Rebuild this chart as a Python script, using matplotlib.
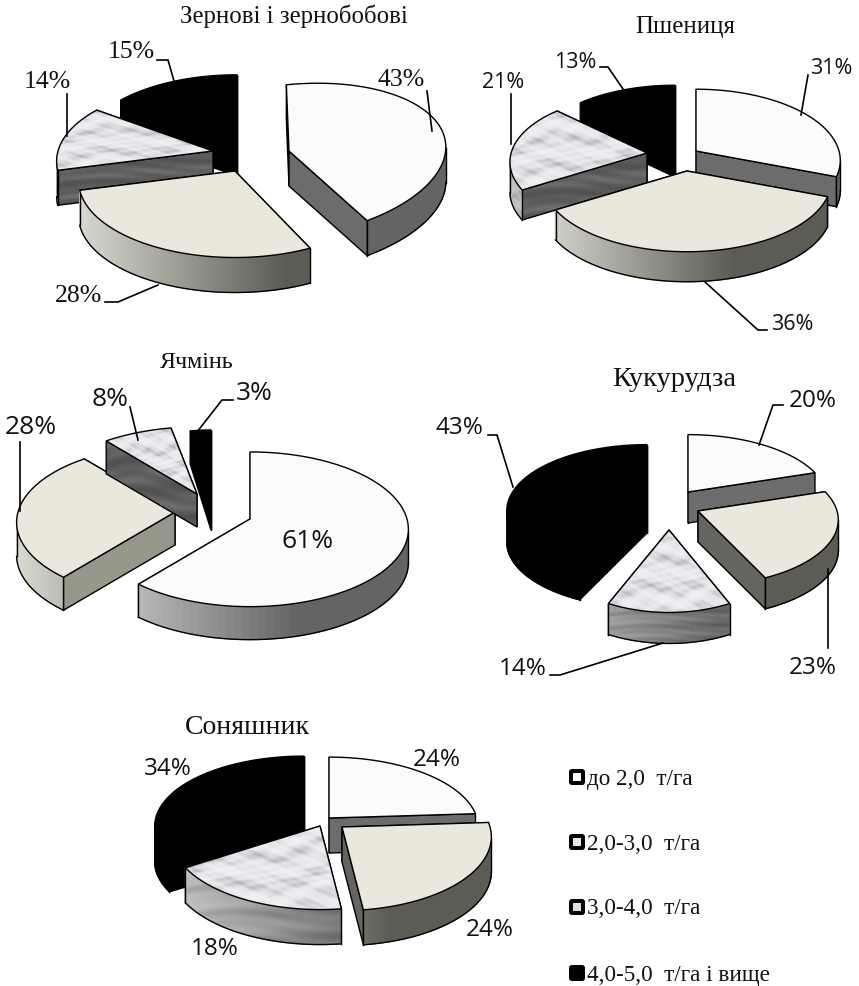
import numpy as np
import matplotlib
matplotlib.use("Agg")
import matplotlib.pyplot as plt
from matplotlib.colors import LinearSegmentedColormap, to_rgb
from matplotlib.patches import FancyBboxPatch, Polygon

# values, % per class
zernovi = [43, 28, 14, 15]
pshenytsia = [31, 36, 21, 13]
yachmin = [61, 28, 8, 3]
kukurudza = [20, 23, 14, 43]
sonyashnyk = [24, 24, 18, 34]

classes = ["до 2,0  т/га", "2,0-3,0  т/га", "3,0-4,0  т/га", "4,0-5,0  т/га і вище"]

top_colors = ["#fbfbfb", "#eae8dc", "#dcdce2", "#000000"]
side_colors = ["#6c6c6c", "#646460", "#5c5c5c", "#000000"]
wall_light = ["#d0d0d0", "#d8d8ce", "#c4c4c4", "#000000"]
wall_dark = ["#646464", "#5c5c55", "#686868", "#000000"]

SERIF = "Liberation Serif"
SANS = "Open Sans"

# layout of each pie: wedge tips, radii, depth, draw order
pies = [
    dict(values=zernovi, tips=[(289, 152), (235, 172), (213, 152), (237, 142)],
         rx=155, ry=75, depth=35, order=[0, 3, 2, 1], font=SERIF, fs=18.5,
         skews={0: (0.04, -0.1)},
         title="Зернові і зернобобові", title_xy=(294, 16), title_fs=17.8,
         labels=[(401, 80), (79, 296), (47, 82), (131, 52)],
         leaders=[[(427, 92), (432, 132)], [(105, 303), (118, 303), (158, 286)],
                  [(67, 95), (67, 137)], [(157, 61), (168, 61), (174, 82)]]),
    dict(values=pshenytsia, tips=[(696, 152), (687, 172), (647, 154), (675, 148)],
         rx=143, ry=70, depth=30, order=[0, 3, 2, 1], font=SANS, fs=15.5,
         scales={2: (0.95, 0.95)},
         title="Пшениця", title_xy=(685, 27), title_fs=17.9,
         labels=[(831, 68), (792, 325), (503, 82), (575, 63)],
         leaders=[[(808, 76), (801, 116)], [(767, 331), (758, 331), (705, 283)],
                  [(511, 95), (511, 145)], [(600, 68), (608, 68), (623, 90)]]),
    dict(values=yachmin, tips=[(250, 520), (175, 513), (197, 495), (211, 498)],
         rx=157, ry=76, depth=33, order=[3, 1, 2, 0], font=SANS, fs=19,
         side_beige="#96968a", scales={3: (0.8, 1)},
         title="Ячмінь", title_xy=(197, 363), title_fs=17.3,
         labels=[(308, 542), (31, 427), (110, 400), (254, 393)],
         leaders=[[(20, 443), (20, 512)], [(130, 408), (138, 441)],
                  [(233, 401), (222, 401), (197, 433)]]),
    dict(values=kukurudza, tips=[(688, 493), (698, 512), (669, 531), (647, 503)],
         rx=139, ry=65, depth=31, order=[0, 3, 1, 2], font=SANS, fs=17.5,
         scales={2: (0.9, 1.1)},
         title="Кукурудза", title_xy=(674, 380), title_fs=20.5,
         labels=[(813, 401), (813, 668), (523, 669), (459, 428)],
         leaders=[[(783, 406), (773, 406), (759, 446)], [(488, 436), (497, 436), (513, 488)],
                  [(550, 676), (560, 676), (663, 644)], [(828, 649), (828, 570)]]),
    dict(values=sonyashnyk, tips=[(329, 819), (342, 828), (320, 827), (304, 818)],
         rx=148, ry=69, depth=35, order=[3, 0, 2, 1], font=SANS, fs=17.5,
         scales={1: (1, 1.05), 2: (1, 1.05)},
         title="Соняшник", title_xy=(247, 727), title_fs=20,
         labels=[(437, 760), (490, 930), (215, 949), (168, 769)],
         leaders=[]),
]

K = 0.133  # perspective of the tilted disc


def project(t, tip, rx, ry, skew):
    d = 1 + K * np.cos(t)
    px = rx * np.sin(t) / d
    py = -ry * np.cos(t) / d
    return tip[0] + px + skew[0] * py, tip[1] + py + skew[1] * px


def mix(a, b, f):
    a, b = np.array(to_rgb(a)), np.array(to_rgb(b))
    return tuple(a + (b - a) * f)


def marble(ax, patch, xs, ys, zorder):
    # soft smudges, stretched sideways
    xx, yy = np.meshgrid(np.linspace(0, 1, 300), np.linspace(0, 1, 300))
    tex = (np.sin(9 * xx + 19 * yy + 2 * np.sin(7 * xx)) + 0.8 * np.sin(17 * xx - 31 * yy + 1)
           + 0.6 * np.sin(29 * xx + 53 * yy + 3 * np.sin(11 * yy)) + 0.4 * np.sin(61 * xx - 71 * yy))
    cmap = LinearSegmentedColormap.from_list(
        "marble", ["#b0b0b8", "#cfcfd6", "#e6e6ea", "#eeeef1", "#f1f1f4"])
    im = ax.imshow(tex, cmap=cmap, extent=(min(xs), max(xs), max(ys), min(ys)),
                   aspect="auto", zorder=zorder, interpolation="bilinear")
    im.set_clip_path(patch)


def streaks(ax, patch, xs, ys, zorder):
    # horizontal streaks of the marble walls
    xx, yy = np.meshgrid(np.linspace(0, 1, 120), np.linspace(0, 1, 80))
    wave = np.sin(17 * yy + 2 * xx) + 0.7 * np.sin(37 * yy + 3 * np.sin(5 * xx))
    rgba = np.zeros(xx.shape + (4,))
    rgba[..., :3] = (wave > 0)[..., None] * 1.0
    rgba[..., 3] = 0.07 * np.abs(wave)
    im = ax.imshow(rgba, extent=(min(xs), max(xs), max(ys), min(ys)),
                   aspect="auto", zorder=zorder, interpolation="bilinear")
    im.set_clip_path(patch)


def draw_wedge(ax, pie, i, t0, t1, z):
    tip = pie["tips"][i]
    rx, ry, dep = pie["rx"], pie["ry"], pie["depth"]
    skew = pie.get("skews", {}).get(i, (0, 0))
    sc = pie.get("scales", {}).get(i, (1, 1))
    ts = np.linspace(t0, t1, 90)
    x, y = project(ts, tip, rx * sc[0], ry * sc[1], skew)

    # flat sides, the far one first
    side = side_colors[i]
    if i == 1 and "side_beige" in pie:
        side = pie["side_beige"]
    ends = sorted([(x[0], y[0]), (x[-1], y[-1])], key=lambda p: p[1])
    for e in ends:
        quad = np.array([tip, e, (e[0], e[1] + dep), (tip[0], tip[1] + dep)])
        p = Polygon(quad, closed=True, fc=side, ec="none", zorder=z)
        ax.add_patch(p)
        if i == 2:
            streaks(ax, p, quad[:, 0], quad[:, 1], z + 0.5)
        ax.add_patch(Polygon(quad, closed=True, fc="none", ec="black", lw=1, zorder=z + 0.6))
        z += 1

    # curved wall, only where it faces the viewer
    vis = np.where((np.gradient(x) < 0) & (np.cos(ts) < 0.5))[0]
    if len(vis) > 1:
        wx = np.r_[x[vis], x[vis][::-1]]
        wy = np.r_[y[vis], y[vis][::-1] + dep]
        if i == 3:
            ax.add_patch(Polygon(np.c_[wx, wy], closed=True, fc="black", ec="black", lw=1, zorder=z))
        else:
            for a, b in zip(vis[:-1], vis[1:]):
                f = np.clip(1.5 * (x[a] - (tip[0] - rx)) / (2 * rx), 0, 1)
                quad = [(x[a], y[a]), (x[b], y[b]), (x[b], y[b] + dep), (x[a], y[a] + dep)]
                c = mix(wall_light[i], wall_dark[i], f)
                ax.add_patch(Polygon(quad, closed=True, fc=c, ec=c, lw=0.8, zorder=z))
        z += 1
        if i == 2:
            p = Polygon(np.c_[wx, wy], closed=True, fc="none", ec="none", zorder=z)
            ax.add_patch(p)
            streaks(ax, p, wx, wy, z)
            z += 1
        ax.plot(x[vis], y[vis] + dep, color="black", lw=1, zorder=z)
        for j in (vis[0], vis[-1]):
            ax.plot([x[j], x[j]], [y[j], y[j] + dep], color="black", lw=1, zorder=z)
        z += 1

    # top
    px = np.r_[tip[0], x]
    py = np.r_[tip[1], y]
    top = Polygon(np.c_[px, py], closed=True, fc=top_colors[i], ec="none", zorder=z)
    ax.add_patch(top)
    z += 1
    if i == 2:
        marble(ax, top, px, py, z)
        z += 1
    ax.add_patch(Polygon(np.c_[px, py], closed=True, fc="none", ec="black", lw=1, zorder=z))
    return z + 1


def draw_pie(ax, pie, z):
    vals = np.array(pie["values"], dtype=float)
    edges = np.r_[0, np.cumsum(vals)] / vals.sum() * 2 * np.pi
    for i in pie["order"]:
        z = draw_wedge(ax, pie, i, edges[i], edges[i + 1], z)
    for pts in pie["leaders"]:
        ax.plot(*zip(*pts), color="black", lw=1.2, zorder=z)
    z += 1
    for v, xy in zip(pie["values"], pie["labels"]):
        ax.text(xy[0], xy[1], f"{v}%", ha="center", va="center", family=pie["font"],
                fontsize=pie["fs"], color="#111111", zorder=z)
    ax.text(*pie["title_xy"], pie["title"], ha="center", va="center", family=SERIF,
            fontsize=pie["title_fs"], color="#111111", zorder=z)
    return z + 1


fig = plt.figure(figsize=(8.59, 9.87), dpi=100)
ax = fig.add_axes([0, 0, 1, 1])

z = 2
for pie in pies:
    z = draw_pie(ax, pie, z)

# legend
legend_y = [778, 843, 908, 974]
for i, (name, ly) in enumerate(zip(classes, legend_y)):
    ax.add_patch(FancyBboxPatch((569, ly - 8), 16, 16, boxstyle="round,pad=0,rounding_size=3",
                                fc="black", ec="none", zorder=z))
    if i < 3:
        ax.add_patch(FancyBboxPatch((573, ly - 4), 8, 8, boxstyle="square,pad=0",
                                    fc=top_colors[i], ec="none", zorder=z + 1))
    ax.text(587, ly + 1, name, ha="left", va="center", family=SERIF, fontsize=16.7,
            color="#111111", zorder=z + 1)

ax.set_xlim(0, 859)
ax.set_ylim(987, 0)
ax.axis("off")
fig.savefig("out.png", dpi=100)
